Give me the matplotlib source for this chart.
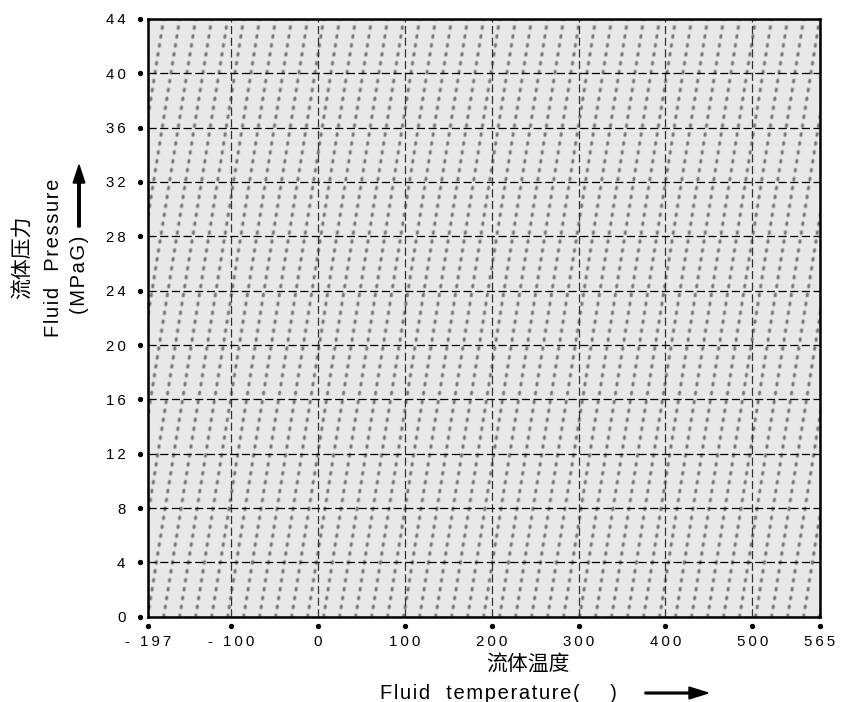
import numpy as np
import matplotlib
matplotlib.use('Agg')
import matplotlib.pyplot as plt
from matplotlib.patches import FancyArrow
from matplotlib.transforms import blended_transform_factory

plt.rcParams['font.family'] = ['Liberation Sans', 'Noto Sans CJK SC', 'DejaVu Sans']
plt.rcParams['lines.scale_dashes'] = False

# ---- data ----
temp_ticks = [-197, -100, 0, 100, 200, 300, 400, 500, 565]
temp_labels = ['- 197', '- 100', '0', '100', '200', '300', '400', '500', '565']
pressure_ticks = [0, 4, 8, 12, 16, 20, 24, 28, 32, 36, 40, 44]
pressure_labels = ['0', '4', '8', '12', '16', '20', '24', '28', '32', '36', '40', '44']
xlabel_cn = '流体温度'
xlabel_en = 'Fluid  temperature(    )'
ylabel_cn = '流体压力'
ylabel_en = 'Fluid  Pressure'
ylabel_unit = '(MPaG)'


def spaced(s, sep='\u2009'):
    return sep.join(s)


# schematic (piecewise-linear) temperature axis
_anch_v = [-197, -100, 500, 565]
_anch_u = [-0.958, 0.0, 6.0, 6.774]


def fwd(x):
    return np.interp(x, _anch_v, _anch_u)


def inv(u):
    return np.interp(u, _anch_u, _anch_v)


fig = plt.figure(figsize=(8.41, 7.02), dpi=100)
ax = fig.add_axes([0.1756, 0.1215, 0.7990, 0.8515])
ax.set_xscale('function', functions=(fwd, inv))
ax.set_xlim(temp_ticks[0], temp_ticks[-1])
ax.set_ylim(pressure_ticks[0], pressure_ticks[-1])
ax.set_facecolor('#e8e8e8')

# background texture: slanted dotted lines (soft halo + core)
dx = 16 / 672
shift = 96 / 672
for k in np.arange(-8, 44):
    x0 = k * dx
    ax.plot([x0, x0 + shift], [0, 1], transform=ax.transAxes, color='#a8a8a8',
            lw=3.0, dashes=(1.2, 5.3), dash_capstyle='round', zorder=0.55, alpha=0.6)
    ax.plot([x0, x0 + shift], [0, 1], transform=ax.transAxes, color='#6c6c6c',
            lw=1.7, dashes=(1.2, 5.3), dash_capstyle='round', zorder=0.6, alpha=0.85)

# grid
ax.set_xticks(temp_ticks, [spaced(s) for s in temp_labels])
ax.set_yticks(pressure_ticks, [spaced(s) for s in pressure_labels])
ax.xaxis.grid(True, color='#333333', lw=0.9, dashes=(5.9, 2.5), zorder=1.5)
ax.yaxis.grid(True, color='#000000', lw=0.9, dashes=(5.9, 2.5), zorder=1.5)
ax.tick_params(axis='both', length=0, labelsize=10.8, colors='black')
ax.tick_params(axis='x', pad=13)
ax.tick_params(axis='y', pad=16)

for sp in ax.spines.values():
    sp.set_linewidth(1.8)
    sp.set_color('black')

# tick dots
tx = blended_transform_factory(ax.transData, ax.transAxes)
ax.plot(temp_ticks, np.full(len(temp_ticks), -0.0156), 'o', color='black', ms=2.8,
        transform=tx, clip_on=False)
ty = blended_transform_factory(ax.transAxes, ax.transData)
ax.plot(np.full(len(pressure_ticks), -0.0119), pressure_ticks, 'o', color='black', ms=2.8,
        transform=ty, clip_on=False)

# axis labels
hs = '\u200a'
fig.text(0.628, 0.0527, xlabel_cn, ha='center', va='center', fontsize=15)
fig.text(0.593, 0.0128, spaced(xlabel_en, hs), ha='center', va='center', fontsize=14.5)
fig.add_artist(FancyArrow(645 / 841, 0.0128, 63 / 841, 0, width=0.0025,
                          head_width=0.017, head_length=19 / 841,
                          length_includes_head=True, color='black',
                          transform=fig.transFigure))

fig.text(0.0273, 0.634, ylabel_cn, ha='center', va='center', rotation=90, fontsize=15)
fig.text(0.0642, 0.633, spaced(ylabel_en, hs), ha='center', va='center', rotation=90,
         fontsize=14.5)
fig.text(0.094, 0.608, spaced(ylabel_unit, hs), ha='center', va='center', rotation=90,
         fontsize=14.5)
fig.add_artist(FancyArrow(79 / 841, 1 - 227 / 702, 0, 62 / 702, width=0.003,
                          head_width=0.014, head_length=18 / 702,
                          length_includes_head=True, color='black',
                          transform=fig.transFigure))

fig.savefig('out.png', dpi=100)
